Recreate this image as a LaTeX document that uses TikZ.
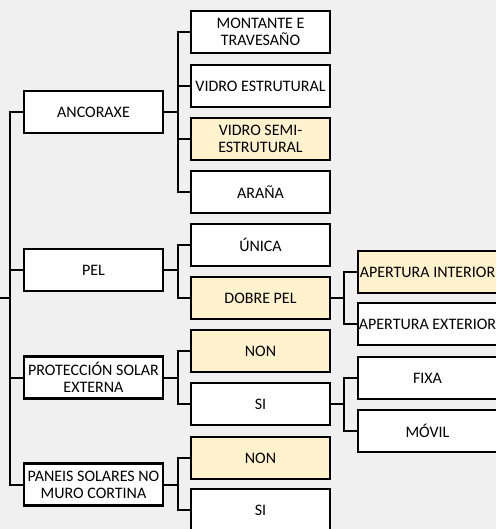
\documentclass[tikz,border=0pt]{standalone}
\usepackage{fontspec}
\setmainfont{Carlito}
\definecolor{bgc}{HTML}{F0F0F0}
\definecolor{selfill}{HTML}{FFF2CC}
\begin{document}
\begin{tikzpicture}[x=0.75pt,y=-0.75pt,
  box/.style={draw, line width=1.9pt, fill=white, minimum width=104.25pt, minimum height=31.5pt, inner sep=0pt, align=center, font=\fontsize{12}{12.6}\selectfont},
  sel/.style={box, fill=selfill},
  conn/.style={line width=1.5pt}]
\useasboundingbox (0,0) rectangle (496,529);
\clip (0,0) rectangle (496,529);
\fill[bgc] (0,0) rectangle (496,529);
% column 1
\node[box] (anc) at (93.5,112) {ANCORAXE};
\node[box] (pel) at (93.5,270) {PEL};
\node[box] (prot) at (93.5,377.5) {PROTECCIÓN SOLAR\\EXTERNA};
\node[box] (pan) at (93.5,484.5) {PANEIS SOLARES NO\\MURO CORTINA};
% column 2
\node[box] (mont) at (260.5,32) {MONTANTE E\\TRAVESAÑO};
\node[box] (vest) at (260.5,86) {VIDRO ESTRUTURAL};
\node[sel] (vsemi) at (260.5,139) {VIDRO SEMI-\\ESTRUTURAL};
\node[box] (ara) at (260.5,192) {ARAÑA};
\node[box] (unica) at (260.5,245) {ÚNICA};
\node[sel] (dobre) at (260.5,298) {DOBRE PEL};
\node[sel] (non1) at (260.5,351) {NON};
\node[box] (si1) at (260.5,404) {SI};
\node[sel] (non2) at (260.5,458) {NON};
\node[box] (si2) at (260.5,510) {SI};
% column 3
\node[sel] (ai) at (427.5,272) {APERTURA INTERIOR};
\node[box] (ae) at (427.5,324) {APERTURA EXTERIOR};
\node[box] (fixa) at (427.5,378) {FIXA};
\node[box] (movil) at (427.5,431) {MÓVIL};
% junction coordinates
\coordinate (root) at (0,298);
\coordinate (t) at (10,298);
\coordinate (j1) at (178,0);
\coordinate (j2) at (344,0);
% trunk
\draw[conn] (root) -- (t);
\foreach \n in {anc,pel,prot,pan} \draw[conn] (t) |- (\n.west);
% level 2
\foreach \n in {mont,vest,vsemi,ara} \draw[conn] (anc.east) -- (anc.east -| j1) |- (\n.west);
\foreach \n in {unica,dobre} \draw[conn] (pel.east) -- (pel.east -| j1) |- (\n.west);
\foreach \n in {non1,si1} \draw[conn] (prot.east) -- (prot.east -| j1) |- (\n.west);
\foreach \n in {non2,si2} \draw[conn] (pan.east) -- (pan.east -| j1) |- (\n.west);
% level 3
\foreach \n in {ai,ae} \draw[conn] (dobre.east) -- (dobre.east -| j2) |- (\n.west);
\foreach \n in {fixa,movil} \draw[conn] (si1.east) -- (si1.east -| j2) |- (\n.west);
\end{tikzpicture}
\end{document}
